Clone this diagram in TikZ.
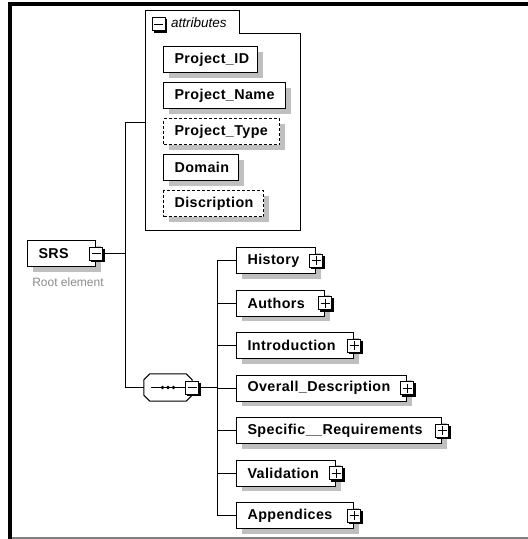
\documentclass[tikz,border=0pt]{standalone}
\usepackage{fontspec}
\setmainfont{Liberation Sans}
\newfontfamily\elemfont[LetterSpace=3]{Liberation Sans}
\usetikzlibrary{shadows,calc}

\tikzset{
  elem/.style={draw, fill=white, line width=1pt, anchor=north west,
    minimum height=26pt, inner xsep=11pt, inner ysep=0pt, align=left,
    font=\elemfont\bfseries\fontsize{14.3}{16}\selectfont,
    drop shadow={shadow xshift=5pt, shadow yshift=-5pt, fill=black!25, opacity=1}},
  optional/.style={dash pattern=on 3pt off 2pt},
  tog/.style={draw, fill=white, line width=0.8pt, minimum size=13pt, inner sep=0pt},
  wire/.style={line width=1pt},
}

% expand/collapse box: name, position, 1 = plus, 0 = minus
\newcommand\togglebox[3]{%
  \node[tog] (#1) at (#2) {};
  \draw[line width=1.4pt] ($(#1.north east)+(1,2)$) -- ($(#1.south east)+(1,1)$) -- ($(#1.south west)+(2,1)$);
  \draw[line width=0.9pt] ($(#1.center)+(-4.5,0)$) -- ($(#1.center)+(4.5,0)$);
  \ifnum#3=1 \draw[line width=0.9pt] ($(#1.center)+(0,-4.5)$) -- ($(#1.center)+(0,4.5)$);\fi
}

% octagon outline around a node, chamfer 6
\newcommand\octpath[1]{%
  ($(#1.north west)+(6,0)$) -- ($(#1.north east)+(-6,0)$) -- ($(#1.north east)+(0,6)$) --
  ($(#1.south east)+(0,-6)$) -- ($(#1.south east)+(-6,0)$) -- ($(#1.south west)+(6,0)$) --
  ($(#1.south west)+(0,-6)$) -- ($(#1.north west)+(0,6)$) -- cycle}

\begin{document}
\begin{tikzpicture}[x=1pt, y=-1pt]
\useasboundingbox (0,0) rectangle (528,539);
\fill[white] (0,0) rectangle (528,539);

% frame
\draw[black!50, line width=1.5pt] (10,538) -- (528,538);
\draw[line width=4pt] (10,539) -- (10,4) -- (528,4);

% attribute group
\draw[line width=1pt] (145,230) -- (145,10) -- (239,10) -- (239,33) -- (300,33) -- (300,230) -- cycle;
\togglebox{attrx}{158.5,24}{0}
\node[anchor=west, inner sep=0pt, font=\itshape\fontsize{13.5}{15}\selectfont] (attrlbl) at (171,23) {attributes};
\coordinate (attrin) at (145,122);

\node[elem, text width=72pt] (pid) at (163,46) {Project\_ID};
\node[elem, text width=100pt] (pname) at (163,82) {Project\_Name};
\node[elem, optional, text width=94pt] (ptype) at (163,118) {Project\_Type};
\node[elem, text width=53pt] (dom) at (163,154) {Domain};
\node[elem, optional, text width=78pt] (desc) at (163,190) {Discription};

% root element
\node[elem, text width=46pt] (srs) at (27,240) {SRS};
\togglebox{srsx}{srs.east}{0}
\node[text=black!45, font=\fontsize{12}{14}\selectfont, inner sep=0pt] (rootlbl) at (68,282) {Root element};

% sequence compositor
\node[minimum width=48pt, minimum height=27pt, inner sep=0pt] (seq) at (168,387.5) {};
\fill[black!25, shift={(5,5)}] \octpath{seq};
\draw[fill=white, line width=1pt] \octpath{seq};
\draw[line width=0.8pt] ($(seq.center)+(-17,0)$) -- ($(seq.center)+(17,0)$);
\foreach \dx in {-5.5,0,5.5} \fill ($(seq.center)+(\dx,0)$) circle (1.9);
\togglebox{seqx}{seq.east}{0}

% children
\node[elem, text width=57pt] (hist) at (236,247) {History};
\node[elem, text width=66pt] (auth) at (236,289.5) {Authors};
\node[elem, text width=95pt] (intro) at (236,332) {Introduction};
\node[elem, text width=148pt] (overall) at (236,374.5) {Overall\_Description};
\node[elem, text width=183pt] (spec) at (236,417) {Specific\_\_Requirements};
\node[elem, text width=77pt] (valid) at (236,459.5) {Validation};
\node[elem, text width=95pt] (app) at (236,502) {Appendices};
\foreach \n in {hist,auth,intro,overall,spec,valid,app} {\togglebox{\n x}{\n.east}{1}}

% connectors
\coordinate (trunk) at (125,0);
\coordinate (bus) at (217,0);
\draw[wire] (srsx.east) -- (srsx.east -| trunk);
\draw[wire] (attrin) -- (attrin -| trunk) -- (seq.west -| trunk) -- (seq.west);
\draw[wire] (seqx.east) -- (seqx.east -| bus);
\draw[wire] (hist.west -| bus) -- (app.west -| bus);
\foreach \n in {hist,auth,intro,overall,spec,valid,app} {\draw[wire] (\n.west -| bus) -- (\n.west);}
\end{tikzpicture}
\end{document}
